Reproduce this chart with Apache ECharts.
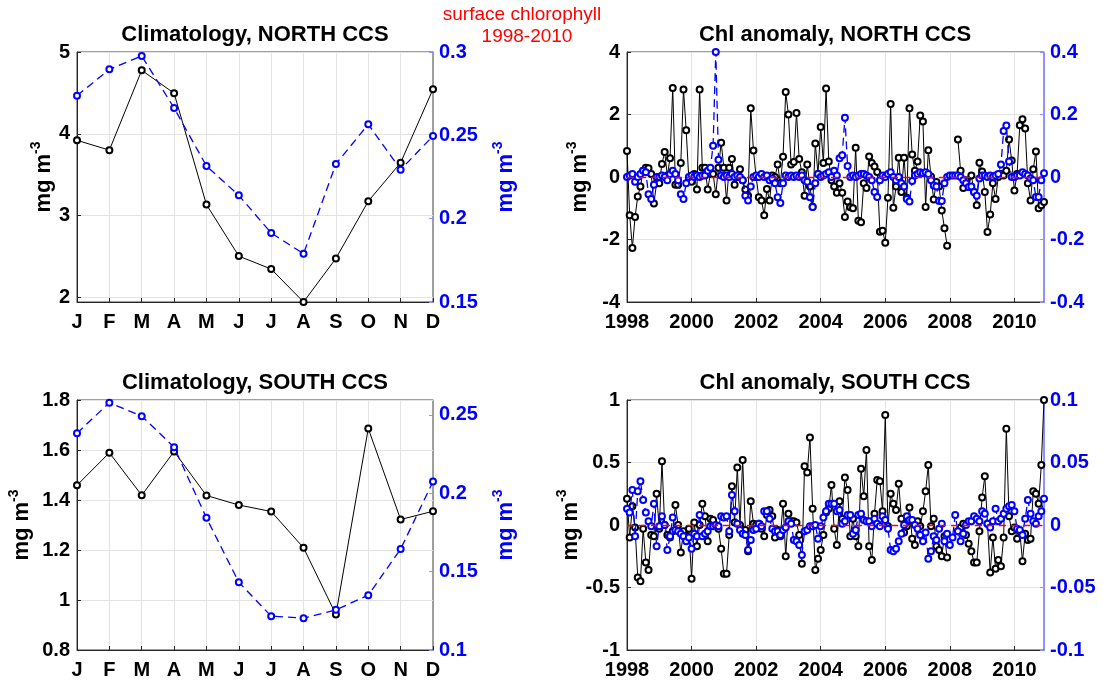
<!DOCTYPE html>
<html>
<head>
<meta charset="utf-8">
<script src="https://cdn.jsdelivr.net/npm/echarts@6/dist/echarts.min.js"></script>
<style>
  html, body { margin: 0; padding: 0; background: #fff; }
  #chart { width: 1103px; height: 682px; }
</style>
</head>
<body>
<div id="chart"></div>
<script>
// month labels of the climatology panels
const months = ['J', 'F', 'M', 'A', 'M', 'J', 'J', 'A', 'S', 'O', 'N', 'D'];

// climatology: satellite (black, left axis) and model (blue, right axis)
const northClimSat = [3.92, 3.80, 4.776, 4.496, 3.134, 2.504, 2.346, 1.943, 2.476, 3.175, 3.646, 4.545];
const northClimModel = [0.2738, 0.2896, 0.2976, 0.2664, 0.2316, 0.214, 0.1914, 0.179, 0.2328, 0.2566, 0.2294, 0.2496];
const southClimSat = [1.459, 1.589, 1.419, 1.594, 1.418, 1.380, 1.354, 1.209, 0.942, 1.686, 1.322, 1.355];
const southClimModel = [0.2383, 0.2578, 0.2492, 0.2294, 0.1843, 0.1432, 0.1216, 0.1203, 0.1256, 0.135, 0.1644, 0.2075];

// monthly anomalies Jan 1998 .. Dec 2010 (null = no data)
const startYear = 1998;
const northAnomSat = [
  0.83, -1.22, -2.27, -1.28, -0.62, -0.3, 0.2, 0.3, 0.28, 0.1, -0.85, -0.2,
  -0.2, 0.42, 0.8, 0.05, 0.6, 2.85, -0.25, -0.25, 0.45, 2.8, 1.5, -0.1,
  -0.15, 0.1, -0.4, 2.8, 0.3, 0.3, -0.4, 0.1, 0.1, -0.55, 0.3, 1.1,
  0.3, -0.75, 0.3, 0.58, -0.25, 0.0, 0.25, -0.1, -0.4, -0.6, 2.2, 0.85,
  0.0, -0.65, -0.75, -1.22, -0.38, -0.75, 0.05, 0.0, 0.4, -0.2, 0.65, 2.72,
  2.0, 0.4, 0.48, 2.05, 0.58, 0.15, -0.6, 0.4, -0.3, -0.95, 1.07, 0.1,
  1.6, 0.45, 2.83, 0.5, -0.1, -0.3, -0.5, -0.2, -0.5, -1.28, -0.78, -0.97,
  -1.0, 0.94, -1.4, -1.45, -0.2, -0.35, 0.66, 0.45, 0.34, 0.16, -1.75, -1.72,
  -2.1, -0.66, 2.34, -0.98, -0.3, 0.62, -0.48, 0.62, -0.66, 2.2, 0.72, 0.2,
  0.5, 1.97, 1.78, -0.96, 0.86, 0.02, -0.72, -0.16, -0.3, -1.07, -1.64, -2.2,
  null, null, null, 1.2, 0.2, -0.35, -0.1, -0.32, 0.05, -0.48, -0.9, 0.46,
  0.18, -0.48, -1.76, -1.2, -0.2, -0.7, 0.0, 0.1, 0.05, 0.2, 1.2, 0.53,
  -0.43, 0.1, 1.66, 1.85, 1.55, -0.2, -0.75, 0.25, 0.82, -1.0, -0.9, -0.8
];
const northAnomModel = [
  0.0, 0.005, 0.01, -0.015, 0.0, 0.01, 0.02, 0.015, -0.055, -0.07, -0.025, 0.0,
  0.0, 0.005, 0.0, -0.01, 0.01, 0.02, 0.01, -0.01, -0.055, -0.07, -0.02, 0.0,
  0.005, 0.0, 0.005, 0.0, 0.005, 0.005, 0.02, 0.03, 0.1, 0.4, 0.055, 0.005,
  0.0, 0.005, 0.0, 0.01, 0.0, 0.005, 0.0, -0.01, -0.06, -0.075, -0.03, 0.0,
  0.005, 0.0, 0.01, 0.0, 0.005, -0.01, -0.005, -0.02, -0.065, -0.083, -0.02, 0.005,
  0.0, 0.005, 0.0, 0.005, 0.0, 0.005, -0.01, -0.015, -0.065, -0.096, -0.02, 0.01,
  0.0, 0.005, 0.01, 0.015, 0.0, 0.02, 0.005, 0.06, 0.07, 0.19, 0.035, 0.0,
  0.005, 0.0, 0.005, 0.01, 0.01, 0.005, 0.0, -0.01, -0.048, -0.064, -0.01, 0.005,
  0.0, 0.01, 0.015, 0.0, -0.01, 0.0, -0.02, -0.03, -0.07, -0.078, -0.013, 0.005,
  0.01, 0.015, 0.012, 0.015, 0.01, -0.01, -0.027, -0.03, -0.077, -0.077, -0.02, 0.0,
  0.005, 0.005, 0.005, 0.005, 0.0, -0.01, -0.02, -0.032, -0.03, -0.048, -0.06, -0.005,
  0.005, 0.005, 0.0, 0.005, 0.0, 0.005, 0.01, 0.04, 0.147, 0.165, 0.05, 0.0,
  0.0, 0.005, 0.005, 0.015, 0.01, 0.005, -0.005, -0.01, -0.064, -0.064, -0.01, 0.012
];
const southAnomSat = [
  0.21, -0.1, 0.15, -0.02, -0.42, -0.45, -0.03, -0.3, -0.36, -0.08, -0.09, 0.25,
  -0.03, 0.51, 0.0, -0.08, -0.1, -0.05, 0.16, 0.0, -0.22, -0.05, -0.09, -0.03,
  -0.43, 0.02, -0.17, 0.0, 0.17, 0.07, -0.13, 0.05, 0.04, -0.01, -0.03, -0.19,
  -0.39, -0.39, -0.08, 0.31, 0.02, 0.46, 0.0, 0.52, -0.04, -0.21, 0.19, 0.01,
  0.0, 0.01, -0.03, -0.09, 0.08, 0.12, 0.07, -0.1, -0.04, -0.09, 0.17, -0.25,
  0.09, 0.03, 0.03, 0.02, -0.08, -0.31, 0.47, 0.42, 0.7, 0.13, -0.36, -0.27,
  -0.2, -0.08, 0.1, 0.13, 0.32, -0.03, -0.16, 0.19, 0.05, 0.38, 0.28, -0.09,
  0.05, -0.09, -0.17, 0.45, 0.23, 0.6, -0.17, -0.28, 0.09, 0.36, 0.35, 0.11,
  0.88, -0.01, 0.25, 0.17, 0.12, 0.33, 0.05, -0.06, -0.01, 0.14, -0.11, -0.16,
  0.03, -0.01, 0.11, 0.27, 0.48, -0.01, 0.05, -0.17, -0.2, -0.25, -0.09, -0.26,
  null, null, null, -0.05, -0.02, 0.01, -0.08, -0.15, -0.21, -0.3, -0.3, -0.05,
  0.22, 0.39, 0.01, -0.38, -0.1, -0.35, -0.28, -0.33, -0.1, 0.77, 0.07, -0.05,
  -0.02, -0.11, -0.05, -0.29, -0.07, -0.12, -0.11, 0.27, 0.25, 0.17, 0.48, 1.0
];
const southAnomModel = [
  0.013, 0.01, 0.028, -0.009, 0.027, 0.035, 0.02, 0.01, 0.003, -0.001, 0.017, -0.017,
  -0.001, 0.007, 0.0, -0.02, -0.009, 0.006, -0.004, -0.005, -0.007, -0.009, -0.013, -0.01,
  -0.019, -0.007, -0.009, 0.008, -0.009, -0.007, -0.005, -0.001, -0.001, 0.0, -0.001, 0.007,
  0.006, 0.007, -0.005, 0.024, 0.011, 0.001, -0.004, -0.007, -0.008, -0.02, -0.012, -0.004,
  -0.003, 0.001, -0.001, 0.011, 0.011, 0.005, -0.003, -0.005, -0.005, -0.008, -0.004, -0.002,
  0.003, 0.001, -0.012, -0.013, -0.016, -0.024, -0.005, -0.004, -0.001, -0.001, 0.0, -0.011,
  -0.001, 0.006, 0.011, 0.017, 0.017, 0.017, 0.011, 0.012, 0.001, 0.003, 0.008, 0.008,
  -0.007, -0.004, 0.008, 0.009, 0.004, 0.003, 0.003, -0.001, 0.005, 0.001, -0.001, 0.007,
  0.004, -0.003, -0.02, -0.021, -0.019, -0.013, -0.007, 0.0, 0.007, 0.004, 0.004, 0.0,
  -0.003, -0.008, -0.013, -0.006, -0.027, -0.021, -0.009, -0.012, -0.003, 0.001, -0.013, -0.007,
  -0.016, -0.01, 0.008, -0.005, -0.013, -0.007, 0.0, 0.003, 0.003, 0.007, 0.005, 0.003,
  0.011, 0.009, 0.001, -0.002, 0.003, 0.013, 0.003, 0.005, 0.009, 0.013, 0.015, 0.016,
  0.011, -0.003, -0.004, -0.008, 0.005, 0.02, 0.009, 0.003, 0.001, 0.007, 0.011, 0.021
];

// tick labels
const northClimTicks = [2, 3, 4, 5];
const southModelTicks = [0.1, 0.15, 0.2, 0.25];

const FONT = '"Liberation Sans", Arial, Helvetica, sans-serif';
const BLUE = '#0000ff';
const AXIS_DARK = '#262626';
const GRID_GRAY = '#e3e3e3';

// month index -> decimal year
function toSeries(values) {
    return values.map((v, i) => [startYear + i / 12, v === null ? '-' : v]);
}

const chart = echarts.init(document.getElementById('chart'), null, { renderer: 'canvas' });

const grids = [
    { left: 77, top: 52, width: 356, height: 250 },
    { left: 627, top: 52, width: 417, height: 250 },
    { left: 77, top: 400, width: 356, height: 250 },
    { left: 627, top: 400, width: 417, height: 250 }
];

function tickLabel(color) {
    return { color: color, fontFamily: FONT, fontWeight: 'bold', fontSize: 20 };
}

function nameStyle(color) {
    return {
        color: color, fontFamily: FONT, fontWeight: 'bold', fontSize: 22,
        rich: { s: { color: color, fontFamily: FONT, fontWeight: 'bold', fontSize: 14, verticalAlign: 'top', lineHeight: 30 } }
    };
}

function monthAxis(gridIndex) {
    return {
        type: 'category', gridIndex: gridIndex, data: months, boundaryGap: false,
        axisLine: { lineStyle: { color: AXIS_DARK, width: 1 } },
        axisTick: { inside: true, length: 4, lineStyle: { color: AXIS_DARK } },
        axisLabel: Object.assign({ margin: 10 }, tickLabel('#000')),
        splitLine: { show: true, lineStyle: { color: GRID_GRAY, width: 1 } }
    };
}

function yearAxis(gridIndex) {
    return {
        type: 'value', gridIndex: gridIndex, min: startYear, max: startYear + 155 / 12, interval: 2,
        axisLine: { onZero: false, lineStyle: { color: AXIS_DARK, width: 1 } },
        axisTick: { inside: true, length: 4, lineStyle: { color: AXIS_DARK } },
        axisLabel: Object.assign({
            margin: 10, showMaxLabel: false,
            formatter: v => (Math.abs(v - Math.round(v)) < 1e-6 && Math.round(v) % 2 === 0) ? String(Math.round(v)) : ''
        }, tickLabel('#000')),
        splitLine: { show: true, lineStyle: { color: GRID_GRAY, width: 1 } }
    };
}

function leftAxis(gridIndex, opts, nameGap) {
    return Object.assign({
        type: 'value', gridIndex: gridIndex, position: 'left',
        name: 'mg m{s|-3}', nameLocation: 'middle', nameRotate: 90, nameGap: nameGap,
        nameTextStyle: nameStyle('#000'),
        axisLine: { show: true, onZero: false, lineStyle: { color: AXIS_DARK, width: 1 } },
        axisTick: { show: true, inside: true, length: 4, lineStyle: { color: AXIS_DARK } },
        axisLabel: Object.assign({ margin: 7 }, tickLabel('#000')),
        splitLine: { show: true, lineStyle: { color: GRID_GRAY, width: 1 } }
    }, opts);
}

function rightAxis(gridIndex, opts, withName) {
    const axis = Object.assign({
        type: 'value', gridIndex: gridIndex, position: 'right',
        axisLine: { show: true, onZero: false, lineStyle: { color: '#8f8fff', width: 1 } },
        axisTick: { show: true, inside: true, length: 4, lineStyle: { color: '#8f8fff' } },
        axisLabel: Object.assign({ margin: 6 }, tickLabel(BLUE)),
        splitLine: { show: false }
    }, opts);
    if (withName) {
        axis.name = 'mg m{s|-3}';
        axis.nameLocation = 'middle';
        axis.nameRotate = 90;
        axis.nameGap = 58;
        axis.nameTextStyle = nameStyle(BLUE);
    }
    return axis;
}

function satLine(xIdx, yIdx, data, size, zeroLine) {
    const s = {
        type: 'line', xAxisIndex: xIdx, yAxisIndex: yIdx, data: data,
        symbol: 'emptyCircle', symbolSize: size, showAllSymbol: true,
        lineStyle: { color: '#000', width: 1 },
        itemStyle: { color: '#000', borderWidth: 1 },
        z: 2
    };
    if (zeroLine) {
        s.markLine = {
            silent: true, symbol: 'none', label: { show: false }, animation: false,
            lineStyle: { color: '#ff0000', type: [7, 5], width: 1.3 },
            data: [{ yAxis: 0 }]
        };
    }
    return s;
}

function modelLine(xIdx, yIdx, data, size) {
    return {
        type: 'line', xAxisIndex: xIdx, yAxisIndex: yIdx, data: data,
        symbol: 'emptyCircle', symbolSize: size, showAllSymbol: true,
        lineStyle: { color: BLUE, width: 1.3, type: [8, 5] },
        itemStyle: { color: BLUE, borderWidth: 1.1 },
        z: 3
    };
}

function titleText(text, x, y) {
    return {
        type: 'text', x: x, y: y, silent: true,
        style: { text: text, fill: '#000', font: 'bold 22px ' + FONT, align: 'center', verticalAlign: 'middle' }
    };
}

const option = {
    animation: false,
    backgroundColor: '#fff',
    grid: grids.map(g => Object.assign({ show: true, borderColor: '#404040', borderWidth: 1, backgroundColor: '#fff' }, g)),
    xAxis: [monthAxis(0), yearAxis(1), monthAxis(2), yearAxis(3)],
    yAxis: [
        leftAxis(0, { min: 1.943, max: 5, axisLabel: Object.assign({ margin: 7, customValues: northClimTicks }, tickLabel('#000')),
            axisTick: { show: true, inside: true, length: 4, customValues: northClimTicks, lineStyle: { color: AXIS_DARK } } }, 16),
        rightAxis(0, { min: 0.15, max: 0.3, interval: 0.05 }, true),
        leftAxis(1, { min: -4, max: 4, interval: 2 }, 32),
        rightAxis(1, { min: -0.4, max: 0.4, interval: 0.2 }, false),
        leftAxis(2, { min: 0.8, max: 1.8, interval: 0.2 }, 40),
        rightAxis(2, { min: 0.1, max: 0.2595, axisLabel: Object.assign({ margin: 6, customValues: southModelTicks }, tickLabel(BLUE)),
            axisTick: { show: true, inside: true, length: 4, customValues: southModelTicks, lineStyle: { color: '#8f8fff' } } }, true),
        leftAxis(3, { min: -1, max: 1, interval: 0.5 }, 34),
        rightAxis(3, { min: -0.1, max: 0.1, interval: 0.05 }, false)
    ],
    series: [
        satLine(0, 0, northClimSat, 6, false),
        modelLine(0, 1, northClimModel, 6),
        satLine(1, 2, toSeries(northAnomSat), 6, true),
        modelLine(1, 3, toSeries(northAnomModel), 6),
        satLine(2, 4, southClimSat, 6, false),
        modelLine(2, 5, southClimModel, 6),
        satLine(3, 6, toSeries(southAnomSat), 6, true),
        modelLine(3, 7, toSeries(southAnomModel), 6)
    ],
    graphic: [
        titleText('Climatology, NORTH CCS', 255, 35),
        titleText('Chl anomaly, NORTH CCS', 835, 35),
        titleText('Climatology, SOUTH CCS', 255, 383),
        titleText('Chl anomaly, SOUTH CCS', 835, 383),
        {
            type: 'text', x: 522, y: 15, silent: true,
            style: { text: 'surface chlorophyll', fill: '#ff0000', font: '19px ' + FONT, align: 'center', verticalAlign: 'middle' }
        },
        {
            type: 'text', x: 527, y: 37, silent: true,
            style: { text: '1998-2010', fill: '#ff0000', font: '19px ' + FONT, align: 'center', verticalAlign: 'middle' }
        }
    ]
};

chart.setOption(option);
window.addEventListener('resize', () => chart.resize());
</script>
</body>
</html>
